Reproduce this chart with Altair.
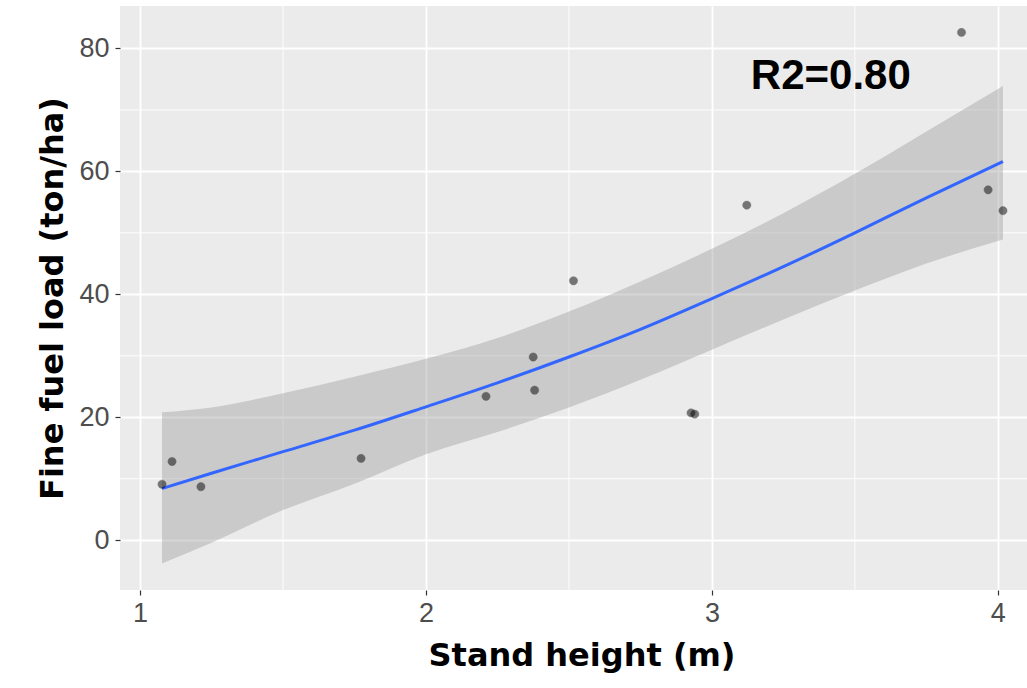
import altair as alt
import pandas as pd

# Observed points
height_m = [1.077, 1.112, 1.213, 1.773, 2.21, 2.375, 2.38, 2.516, 2.927, 2.94, 3.122, 3.873, 3.966, 4.018]
fuel_load = [9.1, 12.8, 8.7, 13.3, 23.4, 29.8, 24.4, 42.2, 20.7, 20.5, 54.5, 82.6, 57.0, 53.6]

# Fitted curve and confidence band
fit_x = [1.077, 1.25, 1.5, 1.75, 2.0, 2.25, 2.5, 2.75, 3.0, 3.25, 3.5, 3.75, 4.018]
fit_y = [8.4, 10.9, 14.4, 17.9, 21.7, 25.6, 29.8, 34.3, 39.3, 44.5, 50.0, 55.7, 61.6]
fit_lo = [-3.8, -0.4, 4.9, 9.2, 14.0, 17.6, 21.6, 26.1, 31.0, 35.9, 40.6, 45.0, 48.9]
fit_hi = [20.8, 21.6, 23.9, 26.6, 29.5, 32.9, 37.2, 42.1, 47.4, 53.2, 59.6, 66.5, 73.9]

x_ticks = [1, 2, 3, 4]
y_ticks = [0, 20, 40, 60, 80]
x_minor = [1.5, 2.5, 3.5]
y_minor = [10, 30, 50, 70]

label_text = ["R2=0.80"]
label_x = [3.416]
label_y = [75.5]

x_domain = [0.93, 4.102]
y_domain = [-8.1, 86.9]

pts = pd.DataFrame({"x": height_m, "y": fuel_load})
fit = pd.DataFrame({"x": fit_x, "y": fit_y, "lo": fit_lo, "hi": fit_hi})
ann = pd.DataFrame({"x": label_x, "y": label_y, "t": label_text})
xm = pd.DataFrame({"x": x_minor})
ym = pd.DataFrame({"y": y_minor})

TITLE_FONT = "DejaVu Sans"
LABEL_FONT = "Liberation Sans"

xscale = alt.Scale(domain=x_domain, nice=False, zero=False)
yscale = alt.Scale(domain=y_domain, nice=False, zero=False)

x_axis = alt.Axis(
    values=x_ticks, format="d", title="Stand height (m)", grid=True, gridColor="white", gridWidth=1.8,
    domain=False, ticks=True, tickColor="#333333", tickSize=5, tickWidth=1.2,
    labelFont=LABEL_FONT, labelFontSize=27, labelColor="#4d4d4d", labelPadding=5,
    titleFont=TITLE_FONT, titleFontSize=32, titleFontWeight="bold", titleColor="black",
    titleX=461.5, titleY=75, titleBaseline="alphabetic", titleAnchor="start", titleAlign="center",
)
y_axis = alt.Axis(
    values=y_ticks, format="d", title="Fine fuel load (ton/ha)", grid=True, gridColor="white", gridWidth=1.8,
    domain=False, ticks=True, tickColor="#333333", tickSize=5, tickWidth=1.2,
    labelFont=LABEL_FONT, labelFontSize=27, labelColor="#4d4d4d", labelPadding=6,
    titleFont=TITLE_FONT, titleFontSize=32, titleFontWeight="bold", titleColor="black",
    titleX=-68, titleY=292, titleBaseline="middle", titleAlign="center", titleAngle=-90,
)

minor_x = alt.Chart(xm).mark_rule(color="white", strokeWidth=0.9).encode(
    x=alt.X("x:Q", scale=xscale, axis=x_axis)
)
minor_y = alt.Chart(ym).mark_rule(color="white", strokeWidth=0.9).encode(
    y=alt.Y("y:Q", scale=yscale, axis=y_axis)
)

band = alt.Chart(fit).mark_area(color="#999999", opacity=0.4, interpolate="monotone").encode(
    x=alt.X("x:Q", scale=xscale),
    y=alt.Y("lo:Q", scale=yscale),
    y2="hi:Q",
)
line = alt.Chart(fit).mark_line(color="#3366FF", strokeWidth=3, interpolate="monotone").encode(
    x=alt.X("x:Q", scale=xscale),
    y=alt.Y("y:Q", scale=yscale),
)
points = alt.Chart(pts).mark_circle(
    color="black", opacity=0.5, size=68, stroke="black", strokeWidth=0.8, strokeOpacity=0.6
).encode(
    x=alt.X("x:Q", scale=xscale),
    y=alt.Y("y:Q", scale=yscale),
)
text = alt.Chart(ann).mark_text(
    font=LABEL_FONT, fontSize=42, fontWeight="bold", color="black", baseline="middle", align="center"
).encode(
    x=alt.X("x:Q", scale=xscale),
    y=alt.Y("y:Q", scale=yscale),
    text="t:N",
)

chart = alt.layer(minor_x, minor_y, band, line, points, text).properties(
    width=907, height=584,
    padding={"left": 120, "top": 6, "right": 0, "bottom": 98},
    autosize=alt.AutoSizeParams(type="none"),
    background="white",
).configure_view(fill="#EBEBEB", stroke=None)

chart.save("out.html", embed_options={"renderer": "svg", "actions": False})
